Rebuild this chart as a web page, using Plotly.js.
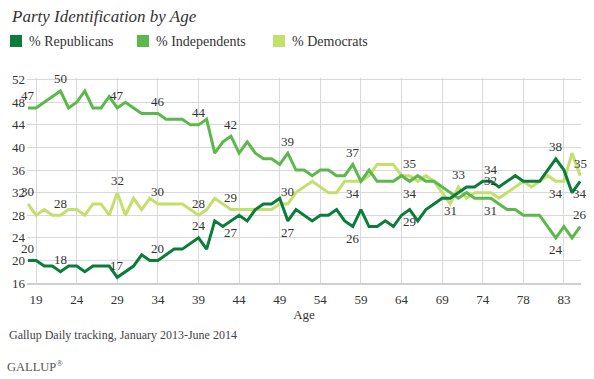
<!DOCTYPE html>
<html>
<head>
<meta charset="utf-8">
<script src="https://cdn.plot.ly/plotly-3.0.1.min.js"></script>
<style>
html,body{margin:0;padding:0;background:#fff;}
#chart{width:594px;height:379px;}
</style>
</head>
<body>
<div id="chart"></div>
<script>
// ---- data (one point per age group, left to right) ----
const republicans = [20,20,19,19,18,19,19,18,19,19,19,17,18,19,21,20,20,21,22,22,23,24,22,27,26,27,28,27,29,30,30,31,27,29,28,27,28,28,29,27,26,29,26,26,27,26,28,29,27,29,30,31,31,32,33,33,34,34,33,34,35,34,34,34,36,38,36,32,34];
const independents = [47,47,48,49,50,47,48,50,47,47,49,47,48,47,46,46,46,45,45,45,44,44,45,39,41,42,39,41,39,38,38,37,39,36,36,35,36,36,35,35,37,34,36,34,34,34,35,34,35,34,34,33,32,31,32,31,31,31,30,29,29,28,28,28,26,24,26,24,26];
const democrats = [30,28,29,28,28,29,29,28,30,30,28,32,28,31,29,31,30,30,30,30,29,28,29,31,30,29,29,29,29,29,29,30,30,32,33,34,33,32,32,34,34,34,35,37,37,37,35,35,34,35,34,32,30,33,31,32,32,32,31,32,33,34,33,34,35,34,34,39,35];
const tickLabels = ['19','24','29','34','39','44','49','54','59','64','69','74','78','83'];
const yTicks = [16,20,24,28,32,36,40,44,48,52];
const seriesNames = ['% Republicans','% Independents','% Democrats'];

// labelled points: [series, index, side]
const labelled = [
  ['i',0,1],['d',0,1],['r',0,1],
  ['i',4,1],['d',4,1],['r',4,1],
  ['i',11,1],['d',11,1],['r',11,1],
  ['i',16,1],['d',16,1],['r',16,1],
  ['i',21,1],['d',21,1],['r',21,1],
  ['i',25,1],['d',25,1],['r',25,-1],
  ['i',32,1],['d',32,1],['r',32,-1],
  ['i',40,1],['d',40,-1],['r',40,-1],
  ['d',47,1],['i',47,-1],['r',47,-1],
  ['d',53,1],['r',52,-1],
  ['r',57,1],['d',57,1],['i',57,-1],
  ['r',65,1],['d',65,-1],['i',65,-1],
  ['d',68,1],['r',68,-1],['i',68,1]
];

const colors = {r:'#0c7c3b', i:'#5cb84a', d:'#c3e06c'};
const data = {r:republicans, i:independents, d:democrats};
const idx = republicans.map((_, k) => k);
const serif = 'Liberation Serif, Times New Roman, serif';

const traces = [
  {x: idx, y: republicans, name: seriesNames[0], mode:'lines', line:{color:colors.r, width:3}},
  {x: idx, y: independents, name: seriesNames[1], mode:'lines', line:{color:colors.i, width:3}},
  {x: idx, y: democrats, name: seriesNames[2], mode:'lines', line:{color:colors.d, width:3}}
].map(t => Object.assign(t, {showlegend:false, hoverinfo:'skip'}));
traces.reverse();

const annotations = labelled.map(([s, k, side]) => ({
  x: k, y: data[s][k], xref:'x', yref:'y', text: String(data[s][k]),
  showarrow:false, yshift: side * 12,
  font:{family:serif, size:13, color:'#333'}
}));

annotations.push(
  {text:'<i>Party Identification by Age</i>', xref:'paper', yref:'paper', x:0, y:1, xanchor:'left', yanchor:'middle',
   font:{family:serif, size:17, color:'#333'}, showarrow:false, xshift:-18, yshift:62},
  {text:'Gallup Daily tracking, January 2013-June 2014', xref:'paper', yref:'paper', x:0, y:0, xanchor:'left', yanchor:'middle',
   font:{family:serif, size:12, color:'#444'}, showarrow:false, xshift:-20, yshift:-52},
  {text:'GALLUP<sup>®</sup>', xref:'paper', yref:'paper', x:0, y:0, xanchor:'left', yanchor:'middle',
   font:{family:serif, size:12.5, color:'#555'}, showarrow:false, xshift:-22, yshift:-83}
);

// legend
const legendX = [10, 137, 273];
const shapes = [];
['r','i','d'].forEach((s, k) => {
  shapes.push({type:'rect', xref:'paper', yref:'paper',
    xsizemode:'pixel', ysizemode:'pixel', xanchor:0, yanchor:1,
    x0: legendX[k]-27, x1: legendX[k]-27+12, y0: 31, y1: 43,
    fillcolor: colors[s], line:{width:0}});
  annotations.push({text: seriesNames[k], xref:'paper', yref:'paper', x:0, y:1, xanchor:'left', yanchor:'middle',
    xshift: legendX[k]-27+17, yshift: 37, showarrow:false, font:{family:serif, size:14, color:'#333'}});
});

const layout = {
  width:594, height:379,
  margin:{l:27, r:13, t:78, b:96, pad:0},
  paper_bgcolor:'#fff', plot_bgcolor:'#fff',
  showlegend:false,
  xaxis:{
    range:[-0.12, 68.1], tickmode:'array',
    tickvals: tickLabels.map((_, k) => 1 + 5*k), ticktext: tickLabels,
    showgrid:true, gridcolor:'#d9d9d9', gridwidth:1, zeroline:false,
    showline:true, linecolor:'#cfcfcf', linewidth:2, ticks:'',
    tickfont:{family:serif, size:13, color:'#333'}, ticklabelstandoff:3,
    title:{text:'Age', font:{family:serif, size:13, color:'#333'}, standoff:3}
  },
  yaxis:{
    range:[16, 52.3], tickmode:'array', tickvals:yTicks,
    showgrid:true, gridcolor:'#d9d9d9', gridwidth:1, zeroline:false,
    showline:false, ticks:'', ticklabelstandoff:1,
    tickfont:{family:serif, size:13, color:'#333'}
  },
  annotations, shapes
};

Plotly.newPlot('chart', traces, layout, {staticPlot:true, displayModeBar:false});
</script>
</body>
</html>
